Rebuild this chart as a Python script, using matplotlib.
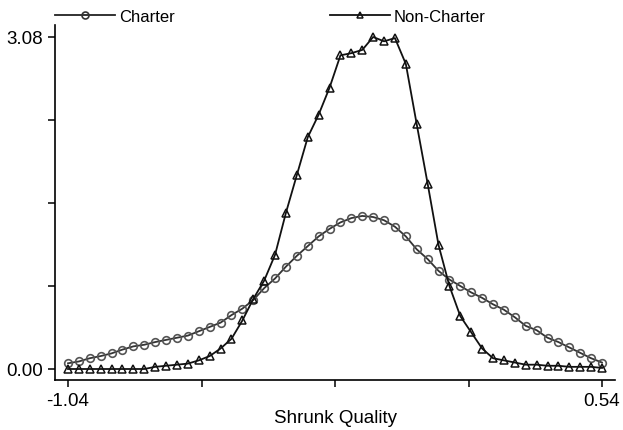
import numpy as np
import matplotlib.pyplot as plt
from matplotlib.lines import Line2D

plt.rcParams['font.family'] = ['Liberation Sans', 'DejaVu Sans']

# shrunk quality grid, 50 points between the two labelled ends
x_min, x_max = -1.04, 0.54
n_pts = 50
quality = np.linspace(x_min, x_max, n_pts)

# density estimates
charter = [0.053, 0.07, 0.10, 0.12, 0.145, 0.18, 0.21, 0.225, 0.25, 0.27,
           0.29, 0.31, 0.35, 0.39, 0.43, 0.50, 0.56, 0.64, 0.75, 0.84,
           0.95, 1.05, 1.14, 1.23, 1.30, 1.36, 1.40, 1.42, 1.41, 1.38,
           1.32, 1.23, 1.11, 1.02, 0.91, 0.83, 0.77, 0.71, 0.66, 0.60,
           0.55, 0.48, 0.40, 0.36, 0.29, 0.25, 0.20, 0.15, 0.10, 0.06]

non_charter = [0.0, 0.0, 0.0, 0.0, 0.0, 0.0, 0.0, 0.0, 0.02, 0.03,
               0.04, 0.05, 0.08, 0.12, 0.19, 0.28, 0.45, 0.65, 0.82, 1.06,
               1.45, 1.80, 2.15, 2.36, 2.61, 2.91, 2.93, 2.96, 3.08, 3.04,
               3.07, 2.83, 2.27, 1.72, 1.15, 0.77, 0.49, 0.34, 0.19, 0.10,
               0.08, 0.06, 0.04, 0.04, 0.03, 0.03, 0.02, 0.02, 0.02, 0.01]

y_top = 3.08

W, H = 623, 431
fig = plt.figure(figsize=(W / 100, H / 100), dpi=100)
# axes box follows the offset spines of the original
ax = fig.add_axes([55 / W, (H - 381) / H, (615 - 55) / W, (381 - 26) / H])

ax.plot(quality, charter, color='#333333', lw=1.3, marker='o', ms=5.5,
        mfc='none', mec='#555555', mew=1.2)
ax.plot(quality, non_charter, color='#111111', lw=1.3, marker='^', ms=5.5,
        mfc='none', mec='#111111', mew=1.1)

px_x = (602 - 68) / (x_max - x_min)
px_y = (370 - 38) / y_top
ax.set_xlim(x_min - 13 / px_x, x_max + 13 / px_x)
ax.set_ylim(-11 / px_y, y_top + 12 / px_y)

xt = np.linspace(x_min, x_max, 5)
ax.set_xticks(xt)
ax.set_xticklabels(['-1.04', '', '', '', '0.54'])
yt = np.linspace(0, y_top, 5)
ax.set_yticks(yt)
ax.set_yticklabels(['0.00', '', '', '', '3.08'])

for s in ['top', 'right']:
    ax.spines[s].set_visible(False)
for s in ['left', 'bottom']:
    ax.spines[s].set_linewidth(1.2)
ax.tick_params(direction='out', length=5, width=1.1, labelsize=13.5, pad=3.5)
ax.set_xlabel('Shrunk Quality', fontsize=13.5, labelpad=0.5)

handles = [
    Line2D([], [], color='#222222', lw=1.3, marker='o', ms=5, mfc='none',
           mec='#333333', mew=1.2, label='Charter'),
    Line2D([], [], color='#111111', lw=1.3, marker='^', ms=5, mfc='none',
           mec='#111111', mew=1.1, label='Non-Charter'),
]
fig.legend(handles=handles, ncol=2, frameon=False, fontsize=12,
           loc='center left', bbox_to_anchor=(55 / W, 1 - 17 / H),
           borderpad=0, borderaxespad=0, handlelength=3.6,
           handletextpad=0.25, columnspacing=9.3, numpoints=1)

fig.savefig('out.png', dpi=100)
